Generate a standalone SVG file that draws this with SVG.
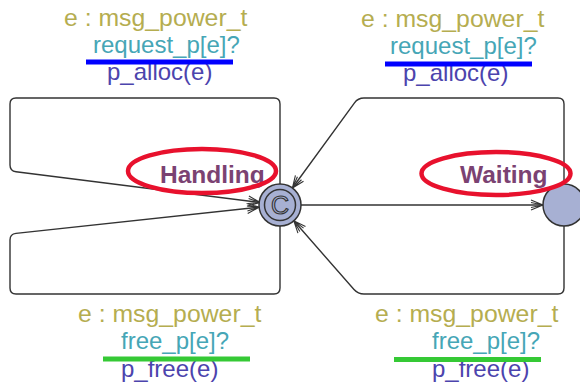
<svg xmlns="http://www.w3.org/2000/svg" width="580" height="382" viewBox="0 0 580 382">
  <style>
    text { font-family: "Liberation Sans", Arial, sans-serif; }
    .sel { font-size: 24.8px; fill: #b5ad50; }
    .sync { font-size: 24px; fill: #46a6b6; }
    .upd { font-size: 24px; fill: #4c44ad; }
    .name { font-size: 24.5px; font-weight: bold; fill: #7b4272; }
    .edge { fill: none; stroke: #333; stroke-width: 1.4; }
    .loc { fill: #a7b0d3; stroke: #333; stroke-width: 1.5; }
    .hl { fill: none; stroke: #e8112d; stroke-width: 4.5; }
  </style>
  <defs>
    <marker id="arrow" viewBox="-14 -7 16 14" refX="0" refY="0" markerWidth="16" markerHeight="14" markerUnits="userSpaceOnUse" orient="auto">
      <path d="M -12 -5 L 0 0 L -12 5 M -12 -2.5 L 0 0 L -12 2.5" fill="none" stroke="#333" stroke-width="1.1"/>
    </marker>
  </defs>

  <rect width="580" height="382" fill="#ffffff"/>

  <!-- transitions -->
  <g id="edges">
    <!-- Handling self loop, upper -->
    <path class="edge" marker-end="url(#arrow)" d="M 280 184 L 280 104 Q 280 98 274 98 L 16 98 Q 10 98 10 104 L 10 165 Q 10 171 16 171.8 L 260.2 202.5"/>
    <!-- Handling self loop, lower -->
    <path class="edge" marker-end="url(#arrow)" d="M 280 226 L 280 288 Q 280 294 274 294 L 16 294 Q 10 294 10 288 L 10 240 Q 10 234 16 233.4 L 259.1 207.2"/>
    <!-- Handling to Waiting -->
    <path class="edge" marker-end="url(#arrow)" d="M 301 205 L 543 205"/>
    <!-- Waiting back to Handling, upper -->
    <path class="edge" marker-end="url(#arrow)" d="M 564 184 L 564 104 Q 564 98 558 98 L 364 98 Q 358 98 354.5 102.8 L 292.4 188"/>
    <!-- Waiting back to Handling, lower -->
    <path class="edge" marker-end="url(#arrow)" d="M 564 226 L 564 288 Q 564 294 558 294 L 364 294 Q 358 294 354 289.5 L 293.8 220.8"/>
  </g>

  <!-- edge labels -->
  <g id="label-top-left">
    <text class="sel" x="64" y="26">e : msg_power_t</text>
    <text class="sync" x="93" y="53">request_p[e]?</text>
    <text class="upd" x="107" y="80">p_alloc(e)</text>
    <rect x="86" y="59.5" width="147" height="5" fill="#0000ff"/>
  </g>
  <g id="label-top-right">
    <text class="sel" x="361" y="27">e : msg_power_t</text>
    <text class="sync" x="390" y="54">request_p[e]?</text>
    <text class="upd" x="403" y="81">p_alloc(e)</text>
    <rect x="385" y="61.5" width="147" height="5" fill="#0000ff"/>
  </g>
  <g id="label-bottom-left">
    <text class="sel" x="78" y="322">e : msg_power_t</text>
    <text class="sync" x="121" y="349">free_p[e]?</text>
    <text class="upd" x="121" y="377">p_free(e)</text>
    <rect x="103" y="356.5" width="147" height="5" fill="#35c935"/>
  </g>
  <g id="label-bottom-right">
    <text class="sel" x="375" y="322">e : msg_power_t</text>
    <text class="sync" x="432" y="349">free_p[e]?</text>
    <text class="upd" x="432" y="377">p_free(e)</text>
    <rect x="394" y="357" width="147" height="5" fill="#35c935"/>
  </g>

  <!-- locations -->
  <g id="Handling">
    <circle class="loc" cx="280" cy="205" r="21"/>
    <circle cx="280" cy="205" r="15.5" fill="none" stroke="#333" stroke-width="1.5"/>
    <text x="280" y="214" text-anchor="middle" font-size="25" fill="#a7b0d3" stroke="#333" stroke-width="1.1">C</text>
    <text class="name" x="160" y="183">Handling</text>
    <ellipse class="hl" cx="202" cy="171" rx="74" ry="22"/>
  </g>
  <g id="Waiting">
    <circle class="loc" cx="564" cy="205" r="21"/>
    <text class="name" x="460" y="183">Waiting</text>
    <ellipse class="hl" cx="496" cy="173.5" rx="74.5" ry="21.5"/>
  </g>
</svg>
